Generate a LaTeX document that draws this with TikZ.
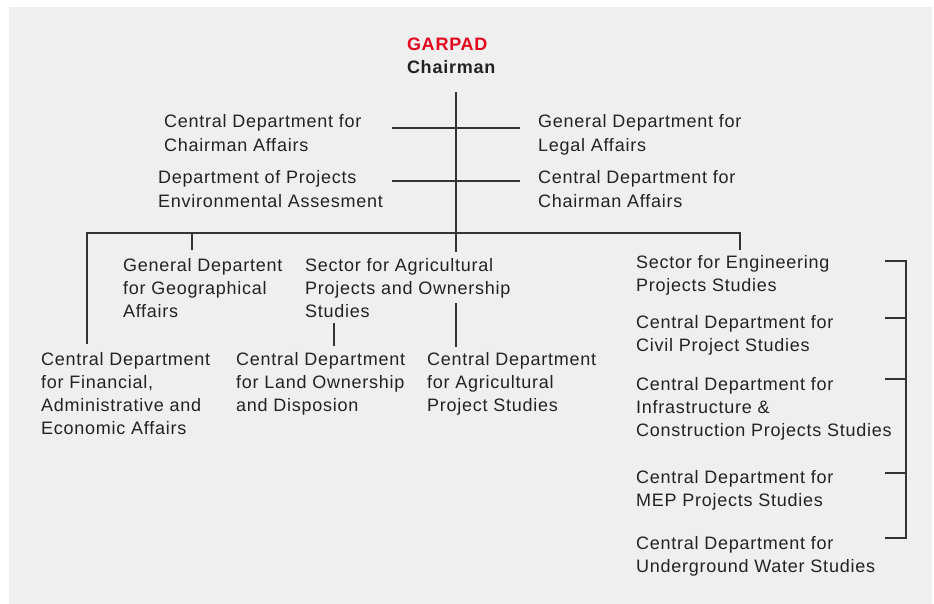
\documentclass[tikz,border=0pt]{standalone}
\usepackage{fontspec}
\setmainfont{Liberation Sans}
\newfontfamily\lblfont[LetterSpace=4.2]{Liberation Sans}
\definecolor{bggray}{HTML}{EEEFEE}
\definecolor{linegray}{HTML}{333333}
\definecolor{txt}{HTML}{222222}
\definecolor{garred}{HTML}{E3061C}
\begin{document}
\begin{tikzpicture}[x=1pt,y=-1pt,
  lbl/.style={anchor=base west,inner sep=0pt,outer sep=0pt,text=txt,
    font=\lblfont\fontsize{18}{23.3}\selectfont},
  conn/.style={draw=linegray,line width=1.1pt}]
\useasboundingbox (0,0) rectangle (934,604);
\fill[bggray] (9,7) rectangle (932,604);
\newcommand{\blk}[1]{\begin{tabular}[t]{@{}l@{}}#1\end{tabular}}
% title
\node[lbl,text=garred,font=\lblfont\bfseries\fontsize{18}{23.3}\selectfont] (garpad) at (407,51) {GARPAD};
\node[lbl,font=\lblfont\bfseries\fontsize{18}{23.3}\selectfont] (chair) at (407,74) {Chairman};
% upper staff
\node[lbl] (cdca) at (164,128) {\blk{Central Department for\\Chairman Affairs}};
\node[lbl] (gdla) at (538,128) {\blk{General Department for\\Legal Affairs}};
\node[lbl] (dpea) at (158,184) {\blk{Department of Projects\\Environmental Assesment}};
\node[lbl] (cdca2) at (538,184) {\blk{Central Department for\\Chairman Affairs}};
% middle row
\node[lbl] (gdga) at (123,271) {\blk{General Departent\\for Geographical\\Affairs}};
\node[lbl] (sapo) at (305,271) {\blk{Sector for Agricultural\\Projects and Ownership\\Studies}};
% bottom row
\node[lbl] (cdfa) at (41,365) {\blk{Central Department\\for Financial,\\Administrative and\\Economic Affairs}};
\node[lbl] (cdlo) at (236,365) {\blk{Central Department\\for Land Ownership\\and Disposion}};
\node[lbl] (cdap) at (427,365) {\blk{Central Department\\for Agricultural\\Project Studies}};
% engineering column
\node[lbl] (seps) at (636,268.5) {\blk{Sector for Engineering\\Projects Studies}};
\node[lbl] (cdcp) at (636,328) {\blk{Central Department for\\Civil Project Studies}};
\node[lbl] (cdic) at (636,390) {\blk{Central Department for\\Infrastructure \&\\Construction Projects Studies}};
\node[lbl] (cdmep) at (636,483) {\blk{Central Department for\\MEP Projects Studies}};
\node[lbl] (cduw) at (636,549) {\blk{Central Department for\\Underground Water Studies}};
% connector coordinates
\coordinate (top) at (456,92);
\coordinate (trunk) at (456,252);
\coordinate (h1l) at (392,128); \coordinate (h1r) at (520,128);
\coordinate (h2l) at (392,181); \coordinate (h2r) at (520,181);
\coordinate (busl) at (87,233); \coordinate (busr) at (740,233);
\coordinate (finb) at (87,344);
\coordinate (geob) at (192,233); \coordinate (geot) at (192,250);
\coordinate (engb) at (740,250);
\coordinate (agt) at (456,303); \coordinate (agb) at (456,347);
\coordinate (lot) at (334,323); \coordinate (lob) at (334,346);
\coordinate (b1) at (906,261); \coordinate (b5) at (906,538);
% connectors
\draw[conn] (top) -- (trunk);
\draw[conn] (h1l) -- (h1r);
\draw[conn] (h2l) -- (h2r);
\draw[conn] (finb) -- (busl) -- (busr) -- (engb);
\draw[conn] (geob) -- (geot);
\draw[conn] (agt) -- (agb);
\draw[conn] (lot) -- (lob);
\draw[conn] (885,261) -- (b1) -- (b5) -- (885,538);
\draw[conn] (885,318) -- (906,318);
\draw[conn] (885,379) -- (906,379);
\draw[conn] (885,473) -- (906,473);
\end{tikzpicture}
\end{document}
